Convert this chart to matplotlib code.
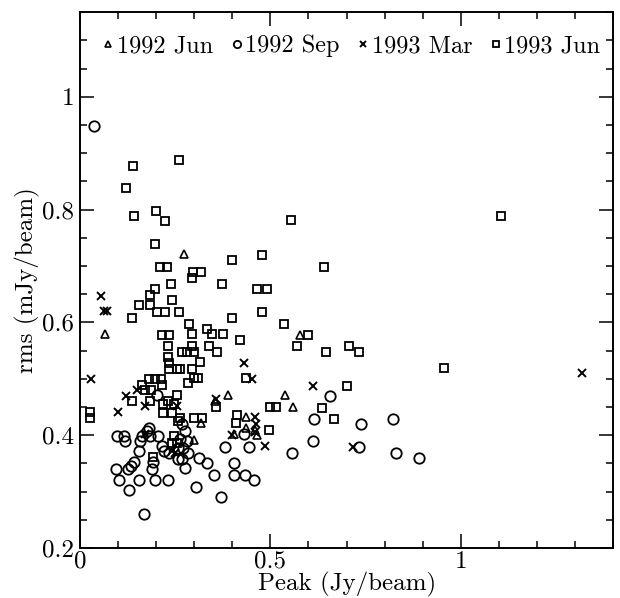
import matplotlib
matplotlib.use("Agg")
import matplotlib.pyplot as plt
from matplotlib.ticker import MultipleLocator, FuncFormatter

plt.rcParams['font.family'] = 'cmr10'
plt.rcParams['axes.formatter.use_mathtext'] = True

# ---- data: (peak Jy/beam, rms mJy/beam) ----
jun92 = [(0.066, 0.579), (0.273, 0.721), (0.300, 0.392), (0.318, 0.421),
         (0.354, 0.460), (0.388, 0.471), (0.405, 0.403), (0.435, 0.432),
         (0.437, 0.413), (0.459, 0.409), (0.464, 0.400), (0.538, 0.471),
         (0.560, 0.450), (0.577, 0.578)]

sep92 = [(0.037, 0.948),
         (0.097, 0.399), (0.115, 0.399), (0.163, 0.399), (0.185, 0.399), (0.206, 0.399),
         (0.176, 0.408), (0.119, 0.390), (0.158, 0.390), (0.215, 0.381),
         (0.154, 0.372), (0.220, 0.372), (0.233, 0.369), (0.141, 0.352), (0.193, 0.352),
         (0.135, 0.346), (0.189, 0.340), (0.094, 0.340), (0.125, 0.340),
         (0.102, 0.321), (0.156, 0.321), (0.197, 0.321), (0.230, 0.321),
         (0.128, 0.302), (0.168, 0.261),
         (0.276, 0.408), (0.262, 0.393), (0.280, 0.390), (0.258, 0.378), (0.271, 0.378),
         (0.284, 0.369), (0.267, 0.358), (0.258, 0.358), (0.267, 0.419), (0.202, 0.471),
         (0.180, 0.413),
         (0.312, 0.360), (0.334, 0.351), (0.276, 0.341), (0.352, 0.330), (0.304, 0.309),
         (0.370, 0.291), (0.382, 0.379), (0.444, 0.379), (0.405, 0.351), (0.405, 0.330),
         (0.433, 0.330), (0.457, 0.321), (0.431, 0.402),
         (0.656, 0.469), (0.615, 0.429), (0.737, 0.419), (0.822, 0.429), (0.556, 0.369),
         (0.611, 0.389), (0.733, 0.379), (0.829, 0.369), (0.891, 0.360)]

mar93 = [(0.028, 0.499), (0.055, 0.647), (0.062, 0.620), (0.072, 0.620),
         (0.101, 0.441), (0.121, 0.469), (0.150, 0.480), (0.171, 0.451),
         (0.171, 0.402), (0.241, 0.372), (0.250, 0.369), (0.256, 0.451),
         (0.357, 0.465), (0.400, 0.400), (0.431, 0.528), (0.452, 0.500),
         (0.459, 0.432), (0.461, 0.419), (0.459, 0.405), (0.487, 0.381),
         (0.611, 0.488), (0.716, 0.379), (1.317, 0.510)]

jun93 = [(0.259, 0.888), (0.140, 0.878), (0.122, 0.839), (0.143, 0.789), (0.199, 0.798),
         (0.223, 0.779), (0.198, 0.739), (0.398, 0.710), (0.478, 0.719), (0.210, 0.699),
         (0.228, 0.699), (0.297, 0.690), (0.318, 0.690), (0.293, 0.679), (0.238, 0.668),
         (0.372, 0.668), (0.198, 0.659), (0.466, 0.659), (0.490, 0.659), (0.184, 0.648),
         (0.242, 0.639), (0.154, 0.630), (0.184, 0.630), (0.203, 0.618), (0.223, 0.618),
         (0.260, 0.618), (0.479, 0.618), (0.137, 0.608), (0.398, 0.608), (0.287, 0.598),
         (0.333, 0.589), (0.216, 0.578), (0.234, 0.578), (0.293, 0.579), (0.346, 0.579),
         (0.375, 0.579), (0.421, 0.569), (0.232, 0.559), (0.293, 0.559), (0.339, 0.559),
         (0.268, 0.548), (0.280, 0.548), (0.299, 0.548), (0.361, 0.548), (0.231, 0.539),
         (0.233, 0.528), (0.315, 0.529), (0.234, 0.518), (0.255, 0.518), (0.262, 0.518),
         (0.293, 0.518),
         (0.554, 0.781), (0.641, 0.699), (0.535, 0.598), (0.599, 0.578), (0.569, 0.558),
         (0.647, 0.548), (0.707, 0.558), (0.732, 0.548), (0.956, 0.519), (1.105, 0.789),
         (0.702, 0.488),
         (0.182, 0.500), (0.198, 0.500), (0.212, 0.500), (0.283, 0.492), (0.300, 0.501),
         (0.309, 0.501), (0.437, 0.501), (0.163, 0.489), (0.215, 0.489), (0.171, 0.480),
         (0.187, 0.480), (0.136, 0.460), (0.185, 0.460), (0.254, 0.471), (0.218, 0.455),
         (0.232, 0.460), (0.247, 0.455), (0.217, 0.439), (0.241, 0.439), (0.257, 0.425),
         (0.358, 0.450), (0.262, 0.430), (0.300, 0.430), (0.321, 0.430), (0.411, 0.436),
         (0.409, 0.422), (0.500, 0.450), (0.515, 0.450), (0.636, 0.449), (0.667, 0.429),
         (0.497, 0.409), (0.026, 0.441), (0.026, 0.430), (0.246, 0.399), (0.241, 0.387),
         (0.255, 0.387), (0.193, 0.361)]

labels = ['1992 Jun', '1992 Sep', '1993 Mar', '1993 Jun']

fig = plt.figure(figsize=(6.2, 5.98), dpi=100)
ax = fig.add_axes([0.129, 0.0836, 0.860, 0.896])

def xs(d):
    return [p[0] for p in d]

def ys(d):
    return [p[1] for p in d]

ax.plot(xs(jun92), ys(jun92), ls='none', marker='^', ms=6, mfc='none', mec='k', mew=1.2, label=labels[0])
ax.plot(xs(sep92), ys(sep92), ls='none', marker='o', ms=7.5, mfc='none', mec='k', mew=1.3, label=labels[1])
ax.plot(xs(mar93), ys(mar93), ls='none', marker='x', ms=5.5, mec='k', mew=1.4, label=labels[2])
ax.plot(xs(jun93), ys(jun93), ls='none', marker='s', ms=5.5, mfc='none', mec='k', mew=1.3, label=labels[3])

ax.set_xlim(0, 1.4)
ax.set_ylim(0.2, 1.15)
ax.xaxis.set_major_locator(MultipleLocator(0.5))
ax.xaxis.set_minor_locator(MultipleLocator(0.1))
ax.yaxis.set_major_locator(MultipleLocator(0.2))
ax.yaxis.set_minor_locator(MultipleLocator(0.05))
fmt = FuncFormatter(lambda v, p: '%g' % round(v, 3))
ax.xaxis.set_major_formatter(fmt)
ax.yaxis.set_major_formatter(fmt)
ax.tick_params(which='both', direction='in', top=True, right=True, labelsize=18, width=1.1)
ax.tick_params(which='major', length=10)
ax.tick_params(which='minor', length=5)
ax.tick_params(axis='x', which='major', pad=2)
ax.tick_params(axis='y', which='major', pad=4)
for s in ax.spines.values():
    s.set_linewidth(1.4)

ax.set_xlabel('Peak (Jy/beam)', fontsize=18, labelpad=-1)
ax.set_ylabel('rms (mJy/beam)', fontsize=18, labelpad=2)

ax.legend(loc='upper left', bbox_to_anchor=(0.01, 0.99), ncol=4, frameon=False,
          fontsize=17.5, markerscale=0.7, handlelength=0.5, handletextpad=0.1,
          columnspacing=0.72, borderpad=0.2)

fig.savefig('out.png', dpi=100)
